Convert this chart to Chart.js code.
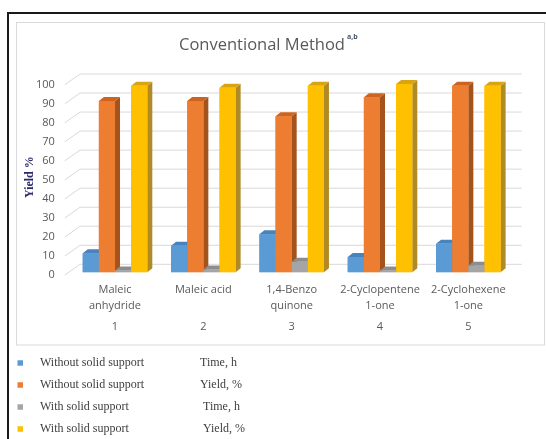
<!DOCTYPE html>
<html>
<head>
<meta charset="utf-8">
<script src="https://cdn.jsdelivr.net/npm/chart.js@4.4.1/dist/chart.umd.min.js"></script>
<style>
  html, body { margin: 0; padding: 0; background: #ffffff; }
  canvas { display: block; }
</style>
</head>
<body>
<canvas id="chart" width="546" height="439"></canvas>
<script>
// Compounds (x-axis categories) and their entry numbers
const categories = [
  ["Maleic", "anhydride"],
  ["Maleic acid"],
  ["1,4-Benzo", "quinone"],
  ["2-Cyclopentene", "1-one"],
  ["2-Cyclohexene", "1-one"]
];
const entryNumbers = ["1", "2", "3", "4", "5"];

// Series values
const timeWithoutSupport  = [10, 14, 20, 8, 15];
const yieldWithoutSupport = [90, 90, 82, 92, 98];
const timeWithSupport     = [1, 1.5, 5.5, 1, 3.5];
const yieldWithSupport    = [98, 97, 98, 99, 98];

// Legend text: condition and measured quantity
const seriesConditions = ["Without solid support", "Without solid support", "With solid support", "With solid support"];
const seriesQuantities = ["Time, h", "Yield, %", "Time, h", "Yield, %"];

// Value axis
const yMin = 0, yMax = 100, yStep = 10;

// Face colours of the 3D columns: front, side, top
const frontColors = ["#5b9bd5", "#ed7d31", "#a5a5a5", "#ffc000"];
const sideColors  = ["#3f6f9e", "#a5531c", "#777777", "#b08a25"];
const topColors   = ["#4a82bd", "#cc6420", "#8d8d8d", "#d9a412"];

const seriesData = [timeWithoutSupport, yieldWithoutSupport, timeWithSupport, yieldWithSupport];

const AXIS_GRAY = "#595959";
const GRID_GRAY = "#d9d9d9";
const BAR_DEPTH = { dx: 5, dy: 4 };          // column depth offset
const WALL = { frontDx: -6, frontDy: 2.7, backDx: 9.2, backDy: -8 }; // floor/wall geometry

// Frame, title and the 3D back-wall grid
const framePlugin = {
  id: "frame3d",
  beforeDraw(chart) {
    const ctx = chart.ctx;
    ctx.save();
    ctx.fillStyle = "#ffffff";
    ctx.fillRect(0, 0, chart.width, chart.height);

    // outer dark frame
    ctx.strokeStyle = "#1a1a1a";
    ctx.lineWidth = 2;
    ctx.beginPath();
    ctx.moveTo(8, chart.height + 2);
    ctx.lineTo(8, 13);
    ctx.lineTo(chart.width + 2, 13);
    ctx.stroke();

    // chart box
    ctx.strokeStyle = "#d9d9d9";
    ctx.lineWidth = 1;
    ctx.strokeRect(16.5, 22.5, 528, 322.5);

    // title with superscript
    ctx.fillStyle = AXIS_GRAY;
    ctx.font = '16.5px "Open Sans"';
    ctx.textAlign = "center";
    ctx.textBaseline = "alphabetic";
    const title = "Conventional Method";
    const cx = 262;
    ctx.fillText(title, cx, 50);
    const w = ctx.measureText(title).width;
    ctx.font = 'bold 7px "Open Sans"';
    ctx.textAlign = "left";
    ctx.fillStyle = "#44546a";
    ctx.fillText("a,b", cx + w / 2 + 2, 39);

    // grid on the side wall and back wall
    const y = chart.scales.y;
    const area = chart.chartArea;
    ctx.strokeStyle = GRID_GRAY;
    ctx.lineWidth = 1;
    y.ticks.forEach(t => {
      const py = y.getPixelForValue(t.value);
      ctx.beginPath();
      ctx.moveTo(area.left + WALL.frontDx, py + WALL.frontDy);
      ctx.lineTo(area.left + WALL.backDx, py + WALL.backDy);
      ctx.lineTo(area.right + WALL.backDx, py + WALL.backDy);
      ctx.stroke();
    });
    ctx.restore();
  }
};

// 3D columns: side and top faces, then the front face, series by series
const columnsPlugin = {
  id: "columns3d",
  afterDatasetsDraw(chart) {
    const ctx = chart.ctx;
    ctx.save();
    chart.data.datasets.forEach((ds, i) => {
      const meta = chart.getDatasetMeta(i);
      meta.data.forEach(bar => {
        const { x, y, base, width } = bar.getProps(["x", "y", "base", "width"], true);
        const l = x - width / 2, r = x + width / 2;
        const { dx, dy } = BAR_DEPTH;
        // side face
        ctx.fillStyle = sideColors[i];
        ctx.beginPath();
        ctx.moveTo(r, y);
        ctx.lineTo(r + dx, y - dy);
        ctx.lineTo(r + dx, base - dy);
        ctx.lineTo(r, base);
        ctx.closePath();
        ctx.fill();
        // top face
        ctx.fillStyle = topColors[i];
        ctx.beginPath();
        ctx.moveTo(l, y);
        ctx.lineTo(r, y);
        ctx.lineTo(r + dx, y - dy);
        ctx.lineTo(l + dx, y - dy);
        ctx.closePath();
        ctx.fill();
        // front face
        ctx.fillStyle = frontColors[i];
        ctx.fillRect(l, y, width, base - y);
      });
    });
    ctx.restore();
  }
};

// Legend listed below the chart box
const legendPlugin = {
  id: "legendRows",
  afterDraw(chart) {
    const ctx = chart.ctx;
    ctx.save();
    ctx.font = '12px "Liberation Serif"';
    ctx.textBaseline = "middle";
    ctx.textAlign = "left";
    const rows = [363, 385, 407, 429];
    const qx = [200, 200, 203, 203];
    chart.data.datasets.forEach((ds, i) => {
      const ry = rows[i];
      ctx.fillStyle = frontColors[i];
      ctx.fillRect(17.5, ry - 2.75, 5.5, 5.5);
      ctx.fillStyle = "#404040";
      ctx.fillText(seriesConditions[i], 40, ry);
      ctx.fillText(seriesQuantities[i], qx[i], ry);
    });
    ctx.restore();
  }
};

const datasets = seriesData.map((values, i) => ({
  label: seriesConditions[i] + " " + seriesQuantities[i],
  data: values,
  backgroundColor: frontColors[i],
  borderWidth: 0,
  barPercentage: 1,
  categoryPercentage: 0.731
}));

new Chart(document.getElementById("chart"), {
  type: "bar",
  data: { labels: categories, datasets },
  options: {
    responsive: false,
    devicePixelRatio: 1,
    animation: false,
    layout: { padding: { left: 0, top: 82, right: 33.5, bottom: 101.7 } },
    plugins: {
      legend: { display: false },
      title: { display: false },
      tooltip: { enabled: false }
    },
    scales: {
      x: {
        position: "bottom",
        weight: 0,
        grid: { display: false, drawTicks: false },
        border: { display: false },
        ticks: {
          color: AXIS_GRAY,
          font: { family: "Open Sans", size: 11, lineHeight: 1.4 },
          padding: 10,
          maxRotation: 0,
          autoSkip: false
        },
        afterFit: s => { s.height = 40; }
      },
      x2: {
        type: "category",
        position: "bottom",
        weight: 1,
        labels: entryNumbers,
        offset: true,
        grid: { display: false, drawTicks: false },
        border: { display: false },
        ticks: {
          color: AXIS_GRAY,
          font: { family: "Open Sans", size: 11, lineHeight: 1.4 },
          padding: 7,
          maxRotation: 0,
          autoSkip: false
        },
        afterFit: s => { s.height = 25; }
      },
      y: {
        min: yMin,
        max: yMax,
        grid: { display: false, drawTicks: false },
        border: { display: false },
        ticks: {
          stepSize: yStep,
          color: AXIS_GRAY,
          font: { family: "Open Sans", size: 11 },
          padding: 16,
          labelOffset: 2.5
        },
        title: {
          display: true,
          text: "Yield %",
          color: "#2b2a6e",
          font: { family: "Liberation Serif", size: 12, weight: "bold" },
          padding: { top: 23, bottom: 0 }
        },
        afterFit: s => { s.width = 70.85; }
      }
    }
  },
  plugins: [framePlugin, columnsPlugin, legendPlugin]
});
</script>
</body>
</html>
